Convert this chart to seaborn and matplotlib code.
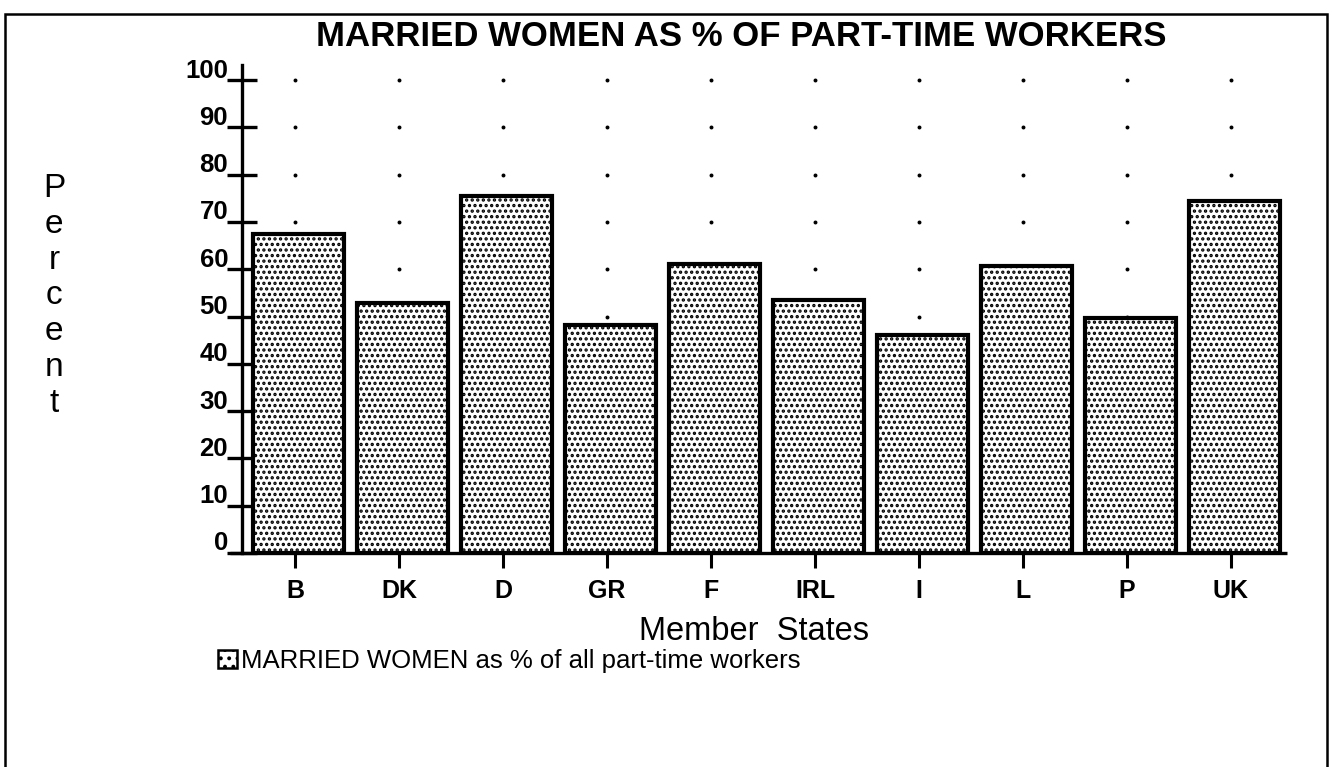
import matplotlib
matplotlib.use("Agg")
import matplotlib.pyplot as plt
import matplotlib.transforms as mtransforms
from matplotlib.patches import Rectangle
import seaborn as sns
import pandas as pd

# ---- data ----
states = ["B", "DK", "D", "GR", "F", "IRL", "I", "L", "P", "UK"]
married_pct = [67.4, 52.9, 75.5, 48.2, 61.1, 53.5, 46.1, 60.7, 49.7, 74.4]
yticks = [0, 10, 20, 30, 40, 50, 60, 70, 80, 90, 100]
title = "MARRIED WOMEN AS % OF PART-TIME WORKERS"
xlabel = "Member  States"
ylabel = "Percent"
legend_label = "MARRIED WOMEN as % of all part-time workers"

sns.set_theme(style="white")
plt.rcParams["font.family"] = ["Liberation Sans", "DejaVu Sans"]
plt.rcParams["hatch.linewidth"] = 1.6
plt.rcParams["text.color"] = "black"

df = pd.DataFrame({"state": states, "pct": married_pct})

W, H = 1332, 767
fig = plt.figure(figsize=(W / 100, H / 100), dpi=100)
ax = fig.add_axes([242 / W, 1 - 553 / H, (1287 - 242) / W, (553 - 65) / H])

tick_off = -0.034
# dotted grid at category ticks, behind bars
for i, s in enumerate(states):
    ax.scatter([i + tick_off] * (len(yticks) - 1), yticks[1:], s=8,
               color="black", zorder=1, linewidths=0)

sns.barplot(data=df, x="state", y="pct", ax=ax, color="white",
            edgecolor="black", linewidth=3.0, width=0.87, saturation=1,
            zorder=2)
for p in ax.patches:
    p.set_hatch("...")
    p.set_facecolor("white")
    p.set_edgecolor("black")

ax.set_xlim(-0.543, 9.505)
ax.set_ylim(0, 103.2)

for side in ["top", "right"]:
    ax.spines[side].set_visible(False)
ax.spines["left"].set_linewidth(2.4)
ax.spines["left"].set_color("black")
ax.spines["bottom"].set_visible(False)
ax.plot([-0.66, 9.505], [0, 0], color="black", lw=2.4, clip_on=False,
        zorder=5, solid_capstyle="butt")

ax.set_yticks(yticks)
ax.set_yticklabels([str(v) for v in yticks], fontsize=18.5, fontweight="bold")
ax.set_xticks([i + tick_off for i in range(len(states))])
ax.set_xticklabels(states, fontsize=18, fontweight="bold")
ax.tick_params(axis="y", left=True, direction="inout", length=22, width=2.4,
               pad=-1, colors="black", labelcolor="black")
ax.tick_params(axis="x", bottom=True, direction="inout", length=22,
               width=2.2, pad=8, colors="black", labelcolor="black")
shift = mtransforms.ScaledTranslation(0, 12 / 100, fig.dpi_scale_trans)
for lab in ax.get_yticklabels():
    lab.set_transform(lab.get_transform() + shift)

ax.set_xlabel("")
ax.set_ylabel("")
ax.grid(False)

fig.text(741 / W, 1 - 37 / H, title, ha="center", va="center",
         fontsize=25, fontweight="bold", color="black")
fig.text(754 / W, 1 - 631 / H, xlabel, ha="center", va="center",
         fontsize=23.5, color="black")
fig.text(54 / W, 1 - 296 / H, "\n".join(ylabel), ha="center", va="center",
         fontsize=24, linespacing=1.2, color="black")

handle = Rectangle((0, 0), 1, 1, facecolor="white", edgecolor="black",
                   hatch="..", linewidth=1.8)
fig.legend([handle], [legend_label], loc="center left",
           bbox_to_anchor=(218 / W, 1 - 661 / H), frameon=False,
           fontsize=18.5, handlelength=0.75, handleheight=0.75,
           handletextpad=0.15, borderpad=0, borderaxespad=0,
           labelcolor="black")

border = Rectangle((5 / W, -0.01), (1327 - 5) / W, (1 - 14 / H) + 0.01,
                   transform=fig.transFigure, fill=False, edgecolor="black",
                   linewidth=1.8)
fig.patches.append(border)

fig.savefig("out.png", dpi=100)
